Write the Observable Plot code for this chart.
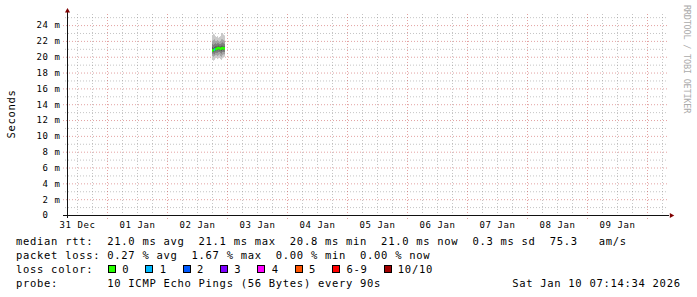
<!DOCTYPE html>
<html><head><meta charset="utf-8">
<script src="https://cdn.jsdelivr.net/npm/d3@7"></script>
<script src="https://cdn.jsdelivr.net/npm/@observablehq/plot@0.6"></script>
<style>
body{margin:0;background:#fff;}
#wrap{position:relative;width:697px;height:297px;overflow:hidden;background:#fff;font-family:"DejaVu Sans Mono",monospace;}
.lg{position:absolute;font-size:10.5px;letter-spacing:0.7px;line-height:14px;white-space:pre;color:#000;}
.box{position:absolute;width:8px;height:8px;box-sizing:border-box;border:1px solid #000;}
.rot{position:absolute;white-space:pre;line-height:1;}
</style></head><body><div id="wrap"></div>
<script>
// ---- data ----
const windowStart = "2025-12-31T08:00Z";
const windowEnd = "2026-01-10T08:00Z";
const dayLabelTimes = ["2025-12-31T12:00Z","2026-01-01T12:00Z","2026-01-02T12:00Z","2026-01-03T12:00Z","2026-01-04T12:00Z","2026-01-05T12:00Z","2026-01-06T12:00Z","2026-01-07T12:00Z","2026-01-08T12:00Z","2026-01-09T12:00Z"];
const dayLabels = ["31 Dec","01 Jan","02 Jan","03 Jan","04 Jan","05 Jan","06 Jan","07 Jan","08 Jan","09 Jan"];
const yTicks = [0,2,4,6,8,10,12,14,16,18,20,22,24];
const yMax = 25.4;
const times = ["2026-01-02T18:00Z","2026-01-02T18:24Z","2026-01-02T18:48Z","2026-01-02T19:12Z","2026-01-02T19:36Z","2026-01-02T20:00Z","2026-01-02T20:24Z","2026-01-02T20:48Z","2026-01-02T21:12Z","2026-01-02T21:36Z","2026-01-02T22:00Z","2026-01-02T22:24Z","2026-01-02T22:48Z"];
const stepMinutes = 24;
// sorted ping RTTs (ms) per time step
const pings = [
  [19.7,20.1,20.4,20.7,20.8,20.9,21.2,21.6,22.0,22.7],
  [19.5,20.0,20.4,20.6,20.8,20.9,21.1,21.5,22.1,22.9],
  [19.6,20.1,20.3,20.7,20.8,21.0,21.2,21.6,22.2,22.8],
  [19.8,20.2,20.5,20.7,20.9,21.0,21.3,21.7,22.0,22.6],
  [19.9,20.2,20.5,20.8,20.9,21.1,21.3,21.6,22.0,22.5],
  [19.7,20.1,20.5,20.8,21.0,21.1,21.3,21.7,22.1,22.6],
  [19.8,20.2,20.6,20.9,21.0,21.2,21.4,21.7,22.0,22.4],
  [19.9,20.3,20.6,20.8,21.0,21.1,21.3,21.6,21.9,22.5],
  [19.7,20.1,20.5,20.8,20.9,21.1,21.3,21.6,22.0,22.6],
  [19.6,20.0,20.4,20.7,21.0,21.1,21.4,21.7,22.2,22.9],
  [19.8,20.2,20.6,20.9,21.0,21.2,21.4,21.8,22.2,23.0],
  [19.9,20.3,20.6,20.8,21.0,21.1,21.3,21.7,22.1,22.8],
  [20.0,20.3,20.6,20.9,21.0,21.1,21.3,21.6,22.0,22.7]
];
const medians = [20.8,20.85,20.9,20.95,21.0,21.05,21.1,21.05,21.0,21.05,21.1,21.05,21.05];
const loss = [0,0,1,0,0,0,0,0,0,0,0,0,0];
const lossLabels = ["0","1","2","3","4","5","6-9","10/10"];
const lossColors = ["#26ff00","#00b8ff","#0059ff","#7e00ff","#ff00ff","#ff5500","#ff0000","#a10000"];
const smokeShades = ["#cacaca","#a4a4a4","#7e7e7e","#585858","#323232"];
const statLines = [
  "median rtt:  21.0 ms avg  21.1 ms max  20.8 ms min  21.0 ms now  0.3 ms sd  75.3   am/s",
  "packet loss: 0.27 % avg  1.67 % max  0.00 % min  0.00 % now"
];
const lossTitle = "loss color:";
const probeLine = "probe:       10 ICMP Echo Pings (56 Bytes) every 90s";
const stamp = "Sat Jan 10 07:14:34 2026";
const unitLabel = "Seconds";
const watermark = "RRDTOOL / TOBI OETIKER";

// ---- derived ----
const start = new Date(windowStart), end = new Date(windowEnd);
const majorX = d3.utcDay.range(start, end);
const minorX = d3.utcHour.every(6).range(start, end).filter(d => d.getUTCHours() !== 0);
const majorY = d3.range(2, yMax, 2);
const minorY = d3.range(1, yMax, 2);
const labelByTime = new Map(dayLabelTimes.map((t, i) => [+new Date(t), dayLabels[i]]));
const cols = times.map((t, i) => {
  const t0 = new Date(t);
  return {t0, t1: new Date(+t0 + stepMinutes * 60000), p: pings[i], m: medians[i], loss: loss[i]};
});
const smokeMarks = smokeShades.map((shade, b) =>
  Plot.rect(cols, {x1: "t0", x2: "t1", y1: d => d.p[b], y2: d => d.p[9 - b], fill: shade})
);

const gridMinor = {stroke: "#8c8c8c", strokeOpacity: 0.5, strokeDasharray: "1,2"};
const gridMajor = {stroke: "#c03030", strokeOpacity: 0.45, strokeDasharray: "1,2"};

const chart = Plot.plot({
  width: 697, height: 297,
  marginLeft: 67, marginRight: 30, marginTop: 14, marginBottom: 82,
  style: {fontFamily: "'DejaVu Sans Mono', monospace", fontSize: "9px", letterSpacing: "0.6px", background: "#fff", color: "#000"},
  x: {type: "utc", domain: [start, end]},
  y: {domain: [0, yMax]},
  color: {type: "identity"},
  marks: [
    Plot.ruleY(minorY, {...gridMinor, insetLeft: -2}),
    Plot.ruleX(minorX, {...gridMinor}),
    Plot.ruleY(majorY, {...gridMajor, insetLeft: -4}),
    Plot.ruleX(majorX, {...gridMajor, insetBottom: -4}),
    ...smokeMarks,
    Plot.rect(cols, {x1: "t0", x2: "t1", y1: d => d.m - 0.17, y2: d => d.m + 0.17, fill: d => lossColors[d.loss]}),
    Plot.ruleY([0], {stroke: "#111", insetLeft: -4, insetRight: -2}),
    Plot.ruleX([start], {stroke: "#111", insetTop: -4, insetBottom: -3}),
    Plot.dot([{t: end, v: 0}], {x: "t", y: "v", symbol: "triangle", rotate: 90, r: 1.9, fill: "#7f0000", dx: 3.8}),
    Plot.dot([{t: start, v: yMax}], {x: "t", y: "v", symbol: "triangle", r: 1.9, fill: "#7f0000", dy: -3.5}),
    Plot.axisY(yTicks, {tickSize: 0, tickPadding: 7, tickFormat: d => d === 0 ? "0\u00a0\u00a0" : d + "\u00a0m", label: null}),
    Plot.axisX(dayLabelTimes.map(t => new Date(t)), {tickSize: 0, tickPadding: 6.5, tickFormat: d => labelByTime.get(+d), label: null})
  ]
});
const wrap = document.getElementById("wrap");
chart.style.position = "absolute"; chart.style.left = "0"; chart.style.top = "0";
wrap.appendChild(chart);

// ---- rotated texts ----
function addRot(txt, cx, cy, deg, css) {
  const el = document.createElement("div");
  el.className = "rot";
  el.textContent = txt;
  el.style.left = cx + "px";
  el.style.top = cy + "px";
  Object.assign(el.style, css);
  el.style.transform = `translate(-50%,-50%) rotate(${deg}deg)`;
  wrap.appendChild(el);
}
addRot(unitLabel, 11, 114, -90, {fontSize: "10.5px", letterSpacing: "0.7px", color: "#000"});
addRot(watermark, 687, 59, 90, {fontSize: "8.5px", letterSpacing: "-0.2px", color: "#aaaaaa"});

// ---- legend (text below the plot area) ----
function addText(txt, left, baseline) {
  const el = document.createElement("div");
  el.className = "lg";
  el.textContent = txt;
  el.style.left = left + "px";
  el.style.top = (baseline - 10.64) + "px";
  wrap.appendChild(el);
  return el;
}
const base0 = 245, lineGap = 14;
addText(statLines[0], 16, base0);
addText(statLines[1], 16, base0 + lineGap);
addText(lossTitle, 16, base0 + 2 * lineGap);
let bx = 108;
lossLabels.forEach((lab, i) => {
  const b = document.createElement("div");
  b.className = "box";
  b.style.left = bx + "px";
  b.style.top = (base0 + 2 * lineGap - 8) + "px";
  b.style.background = lossColors[i];
  wrap.appendChild(b);
  addText(lab, bx + 14.3, base0 + 2 * lineGap);
  bx += 14.3 + 7.05 * lab.length + 16;
});
addText(probeLine, 16, base0 + 3 * lineGap);
const st = addText(stamp, 0, base0 + 3 * lineGap);
st.style.left = "auto"; st.style.right = "16.3px";
</script></body></html>
